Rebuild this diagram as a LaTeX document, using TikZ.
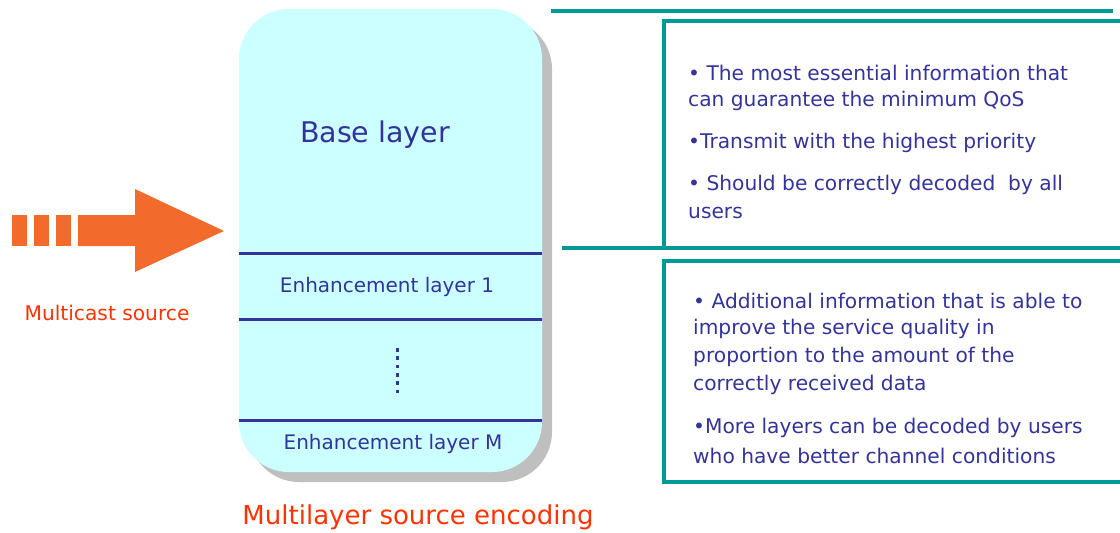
\documentclass[tikz,border=0pt]{standalone}
\usepackage{fontspec}
\setmainfont{DejaVu Sans}
\definecolor{boxfill}{HTML}{CCFFFF}
\definecolor{navy}{HTML}{333399}
\definecolor{teal2}{HTML}{009999}
\definecolor{redtxt}{HTML}{FF3300}
\definecolor{arrowor}{HTML}{F26A2C}
\definecolor{shadowgray}{HTML}{BFBFBF}
\tikzset{
  layerbox/.style={minimum width=303pt, minimum height=463pt, rounded corners=50pt, inner sep=0pt},
  layerline/.style={draw=navy, line width=3pt},
  frame/.style={draw=teal2, line width=3.2pt},
  bodytxt/.style={text=navy, anchor=west, inner sep=0pt, font=\fontsize{20.2}{23}\selectfont},
  layertxt/.style={text=navy, inner sep=0pt, font=\fontsize{20}{23}\selectfont},
  redlabel/.style={text=redtxt, inner sep=0pt},
}
\begin{document}
\begin{tikzpicture}[x=1pt,y=-1pt]
\useasboundingbox (0,0) rectangle (1120,533);
% shadow and box
\node[layerbox, fill=shadowgray] (shadow) at (400.5,250.5) {};
\node[layerbox, fill=boxfill] (box) at (390.5,240.5) {};
% layer separators
\draw[layerline] (box.west |- 0,253) -- (box.east |- 0,253);
\draw[layerline] (box.west |- 0,319) -- (box.east |- 0,319);
\draw[layerline] (box.west |- 0,420) -- (box.east |- 0,420);
% texts in box
\node[text=navy, inner sep=0pt, font=\fontsize{28.5}{32}\selectfont] (base) at (375,135) {Base layer};
\node[layertxt] (enh1) at (387,287) {Enhancement layer 1};
\node[layertxt] (enhM) at (393,444) {Enhancement layer M};
\foreach \k in {0,...,5}{
  \fill[navy] (395.5,348+8.3*\k) rectangle ++(3.8,3.8);
}
% arrow
\fill[arrowor] (12,215) rectangle (27,246);
\fill[arrowor] (34,215) rectangle (49,246);
\fill[arrowor] (56,215) rectangle (71,246);
\fill[arrowor] (78,215) -- (135,215) -- (135,189) -- (224,231) -- (135,272) -- (135,246) -- (78,246) -- cycle;
\node[redlabel, font=\fontsize{20.2}{23}\selectfont] (msrc) at (107,313) {Multicast source};
\node[redlabel, font=\fontsize{26}{30}\selectfont] (mlenc) at (418,517) {Multilayer source encoding};
% teal frames
\draw[frame] (551,11) -- (1113,11);
\draw[frame] (664,248) -- (664,21) -- (1122,21);
\draw[frame] (562,248) -- (1122,248);
\draw[frame] (1122,261) -- (664,261) -- (664,482) -- (1122,482);
% top box text
\node[bodytxt] (t1) at (688,73) {• The most essential information that};
\node[bodytxt] (t2) at (688,101) {can guarantee the minimum QoS};
\node[bodytxt] (t3) at (688,143) {•Transmit with the highest priority};
\node[bodytxt] (t4) at (688,185) {• Should be correctly decoded\ \ by all};
\node[bodytxt] (t5) at (688,213) {users};
% bottom box text
\node[bodytxt] (b1) at (693,301) {• Additional information that is able to};
\node[bodytxt] (b2) at (693,329) {improve the service quality in};
\node[bodytxt] (b3) at (693,357) {proportion to the amount of the};
\node[bodytxt] (b4) at (693,385) {correctly received data};
\node[bodytxt] (b5) at (693,428) {•More layers can be decoded by users};
\node[bodytxt] (b6) at (693,456) {who have better channel conditions};
\end{tikzpicture}
\end{document}
